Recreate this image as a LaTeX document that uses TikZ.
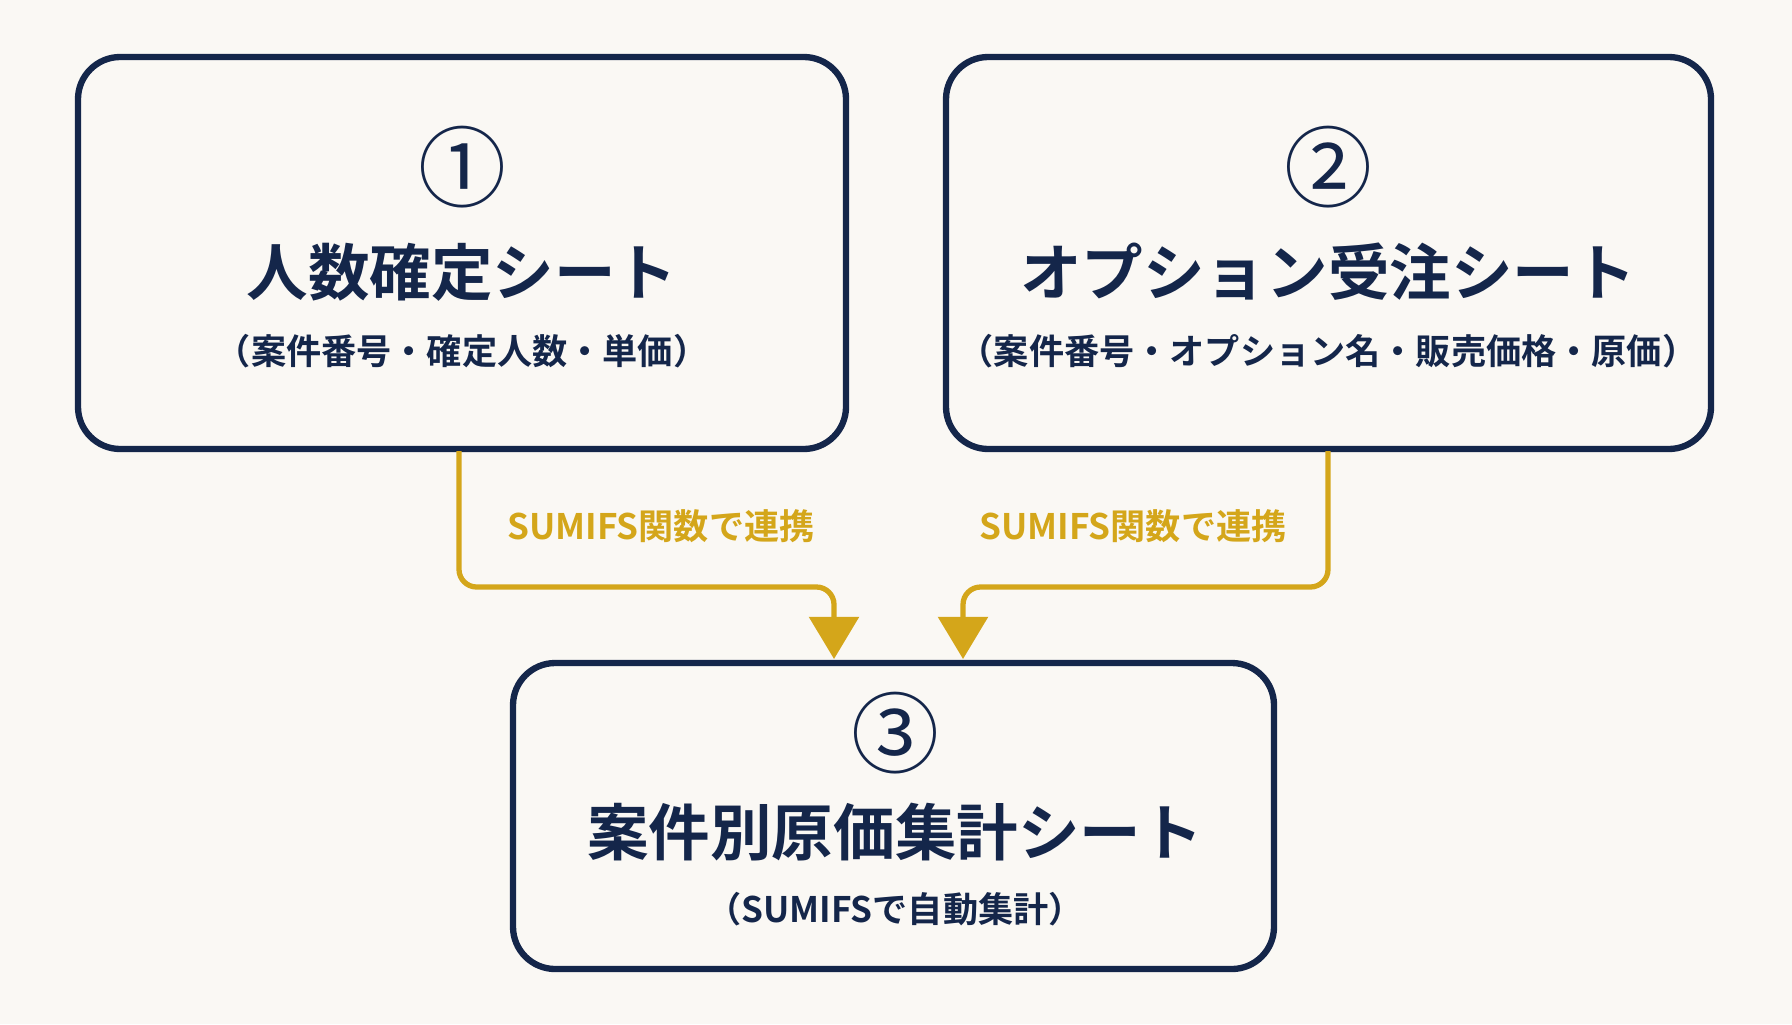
\documentclass[tikz,border=0pt]{standalone}
\usepackage{fontspec}
\setmainfont{Noto Sans CJK JP}[BoldFont={* Bold}]
\usetikzlibrary{arrows.meta}
\definecolor{navy}{HTML}{14264A}
\definecolor{gold}{HTML}{D4A61A}
\definecolor{paper}{HTML}{FAF8F4}
\begin{document}
\begin{tikzpicture}[x=0.01cm, y=-0.01cm,
    sheet/.style={draw=navy, line width=1.8pt, rounded corners=12pt, fill=paper},
    num/.style={text=navy, font=\fontsize{25}{25}\selectfont},
    title/.style={text=navy, font=\bfseries\fontsize{17.5}{18}\selectfont},
    sub/.style={text=navy, font=\bfseries\fontsize{10}{11}\selectfont},
    link/.style={draw=gold, line width=1.5pt, rounded corners=5pt, -{Triangle[length=12pt, width=14pt]}},
    linklabel/.style={text=gold, font=\bfseries\fontsize{10}{11}\selectfont}]
    \fill[paper] (0,0) rectangle (1792,1024);
    \useasboundingbox (0,0) rectangle (1792,1024);

    % sheets
    \draw[sheet] (78,57) rectangle (846,449);
    \draw[sheet] (946,57) rectangle (1711,449);
    \draw[sheet] (513,663) rectangle (1274,969);

    \coordinate (s1) at (459,451);
    \coordinate (s2) at (1328,451);
    \coordinate (t1) at (834,659);
    \coordinate (t2) at (963,659);

    % sheet 1
    \node[num] (n1) at (462,167) {①};
    \node[title] (h1) at (462,272) {人数確定シート};
    \node[sub] (d1) at (462,351) {（案件番号・確定人数・単価）};
    % sheet 2
    \node[num] (n2) at (1328,167) {②};
    \node[title] (h2) at (1328,272) {オプション受注シート};
    \node[sub] (d2) at (1328,351) {（案件番号・オプション名・販売価格・原価）};
    % sheet 3
    \node[num] (n3) at (895,733) {③};
    \node[title] (h3) at (895,832) {案件別原価集計シート};
    \node[sub] (d3) at (895,909) {（SUMIFSで自動集計）};

    % links
    \draw[link] (s1) |- (834,587) -- (t1);
    \draw[link] (s2) |- (963,587) -- (t2);
    \node[linklabel] (l1) at (661,526) {SUMIFS関数で連携};
    \node[linklabel] (l2) at (1133,526) {SUMIFS関数で連携};
\end{tikzpicture}
\end{document}
